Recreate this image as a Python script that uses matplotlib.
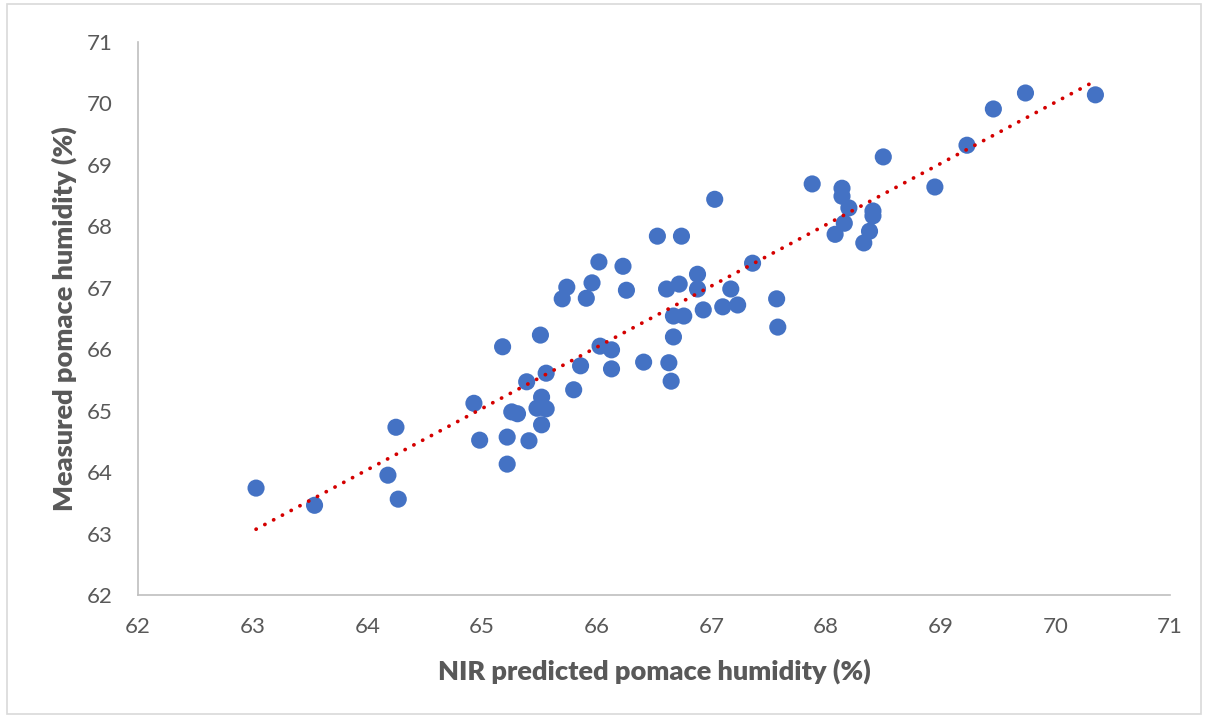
import matplotlib
matplotlib.use("Agg")
import matplotlib.pyplot as plt
import numpy as np
from matplotlib.patches import Rectangle

# NIR predicted (x) vs measured (y) pomace humidity (%)
predicted = [63.03, 63.54, 64.18, 64.25, 64.27, 64.93, 64.98, 65.18, 65.22, 65.22,
             65.26, 65.31, 65.39, 65.41, 65.48, 65.51, 65.52, 65.52, 65.56, 65.56,
             65.70, 65.74, 65.80, 65.86, 65.91, 65.96, 66.02, 66.03, 66.13, 66.13,
             66.23, 66.26, 66.41, 66.53, 66.61, 66.63, 66.65, 66.67, 66.67, 66.72,
             66.74, 66.76, 66.88, 66.88, 66.93, 67.03, 67.10, 67.17, 67.23, 67.36,
             67.57, 67.58, 67.88, 68.08, 68.14, 68.14, 68.16, 68.20, 68.33, 68.38,
             68.41, 68.41, 68.50, 68.95, 69.23, 69.46, 69.74, 70.35]
measured = [63.74, 63.46, 63.95, 64.73, 63.56, 65.12, 64.52, 66.04, 64.57, 64.13,
            64.98, 64.95, 65.47, 64.51, 65.04, 66.23, 65.22, 64.77, 65.03, 65.61,
            66.82, 67.01, 65.34, 65.73, 66.83, 67.08, 67.42, 66.05, 65.99, 65.68,
            67.35, 66.96, 65.79, 67.84, 66.98, 65.78, 65.48, 66.54, 66.20, 67.06,
            67.84, 66.54, 67.22, 66.98, 66.64, 68.44, 66.69, 66.98, 66.72, 67.40,
            66.82, 66.36, 68.69, 67.87, 68.62, 68.49, 68.05, 68.30, 67.73, 67.92,
            68.25, 68.17, 69.13, 68.64, 69.32, 69.91, 70.17, 70.14]
ticks = [62, 63, 64, 65, 66, 67, 68, 69, 70, 71]
x_label = "NIR predicted pomace humidity (%)"
y_label = "Measured pomace humidity (%)"

plt.rcParams['font.family'] = ['Lato', 'DejaVu Sans']

fig = plt.figure(figsize=(12.08, 7.18), dpi=100)
ax = fig.add_axes([0.1142, 0.1713, 0.8543, 0.7702])

x = np.array(predicted)
y = np.array(measured)
ax.scatter(x, y, s=152, color="#4472C4", edgecolors="none", zorder=3)

coef = np.polyfit(x, y, 1)
xl = np.array([x.min(), x.max()])
ax.plot(xl, np.polyval(coef, xl), color="#D40000", lw=2.7,
        linestyle=(0, (0.05, 2.6)), dash_capstyle="round", zorder=4)

ax.set_xlim(62, 71)
ax.set_ylim(62, 71)
ax.set_xticks(ticks)
ax.set_yticks(ticks)
ax.tick_params(length=0, labelsize=16, colors="#595959")
ax.tick_params(axis="x", pad=16)
ax.tick_params(axis="y", pad=18)
for s in ["top", "right"]:
    ax.spines[s].set_visible(False)
for s in ["left", "bottom"]:
    ax.spines[s].set_color("#BFBFBF")
    ax.spines[s].set_linewidth(1.2)

ax.set_xlabel(x_label, fontsize=19.5, fontweight="heavy", color="#595959", labelpad=15)
ax.set_ylabel(y_label, fontsize=19.5, fontweight="heavy", color="#595959", labelpad=7)

fig.patches.append(Rectangle((0.006, 0.006), 0.988, 0.988, transform=fig.transFigure,
                             fill=False, edgecolor="#D9D9D9", lw=1.2))

fig.savefig("out.png", dpi=100)
